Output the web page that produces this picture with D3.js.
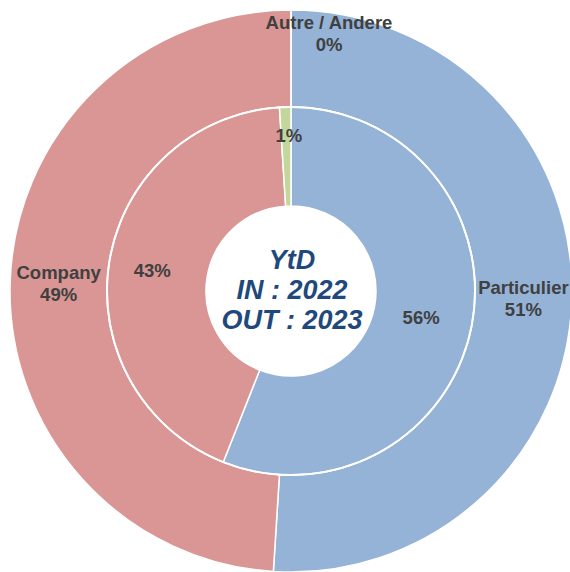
<!DOCTYPE html>
<html>
<head>
<meta charset="utf-8">
<script src="https://cdn.jsdelivr.net/npm/d3@7"></script>
<style>
  body { margin: 0; background: #fff; }
  svg { display: block; }
</style>
</head>
<body>
<div id="chart"></div>
<script>
// Categories and shares (percent)
const categories = ["Particulier", "Company", "Autre / Andere"];
const outerValues = [51, 49, 0];   // OUT : 2023
const innerValues = [56, 43, 1];   // IN : 2022
const centerLines = ["YtD", "IN : 2022", "OUT : 2023"];

// Label nudges (Excel moved a couple of labels by hand)
const outerNudge = [[0, 0], [0, 0], [38, -25]];
const innerNudge = [[-2, 1], [-6, 1], [2, -21]];

const WIDTH = 570, HEIGHT = 572;
const CX = 291, CY = 291;
const R_OUT = 281, R_MID = 184, R_HOLE = 85;

const color = d3.scaleOrdinal()
    .domain(categories)
    .range(["#95b3d7", "#d99694", "#c3d69b"]);

const svg = d3.select("#chart")
    .append("svg")
    .attr("width", WIDTH)
    .attr("height", HEIGHT);

const g = svg.append("g")
    .attr("transform", `translate(${CX},${CY})`);

const pie = d3.pie().sort(null).value(d => d.value);

function ring(values, r0, r1, nudge, showName, cls) {
    const data = pie(values.map((v, i) => ({ name: categories[i], value: v, nudge: nudge[i] })));
    const arc = d3.arc().innerRadius(r0).outerRadius(r1);
    const labelArc = d3.arc().innerRadius((r0 + r1) / 2).outerRadius((r0 + r1) / 2);

    g.append("g").attr("class", cls)
        .selectAll("path")
        .data(data)
        .enter()
        .append("path")
        .attr("d", arc)
        .attr("fill", d => color(d.data.name))
        .attr("stroke", "#fff")
        .attr("stroke-width", 1.5);

    const labels = g.append("g").attr("class", cls + "-labels")
        .selectAll("text")
        .data(data)
        .enter()
        .append("text")
        .attr("transform", d => {
            const [x, y] = labelArc.centroid(d);
            return `translate(${x + d.data.nudge[0]},${y + d.data.nudge[1]})`;
        })
        .attr("text-anchor", "middle")
        .attr("font-family", "Liberation Sans, Arial, sans-serif")
        .attr("font-weight", "bold")
        .attr("font-size", "18.5px")
        .attr("fill", "#404040");

    if (showName) {
        labels.append("tspan").attr("x", 0).attr("y", -11).attr("dy", "0.35em").text(d => d.data.name);
        labels.append("tspan").attr("x", 0).attr("y", 11).attr("dy", "0.35em").text(d => d.data.value + "%");
    } else {
        labels.append("tspan").attr("x", 0).attr("y", 0).attr("dy", "0.35em").text(d => d.data.value + "%");
    }
}

ring(outerValues, R_MID, R_OUT, outerNudge, true, "outer");
ring(innerValues, R_HOLE, R_MID, innerNudge, false, "inner");

// white separator between the two rings
g.append("circle")
    .attr("r", R_MID)
    .attr("fill", "none")
    .attr("stroke", "#fff")
    .attr("stroke-width", 2);

// centre hole
g.append("circle")
    .attr("r", R_HOLE)
    .attr("fill", "#fff");

g.append("text")
    .attr("text-anchor", "middle")
    .attr("font-family", "Liberation Sans, Arial, sans-serif")
    .attr("font-weight", "bold")
    .attr("font-style", "italic")
    .attr("font-size", "27px")
    .attr("fill", "#1f497d")
    .selectAll("tspan")
    .data(centerLines)
    .enter()
    .append("tspan")
    .attr("x", 1)
    .attr("y", (d, i) => (i - 1) * 30 - 1)
    .attr("dy", "0.35em")
    .text(d => d);
</script>
</body>
</html>
